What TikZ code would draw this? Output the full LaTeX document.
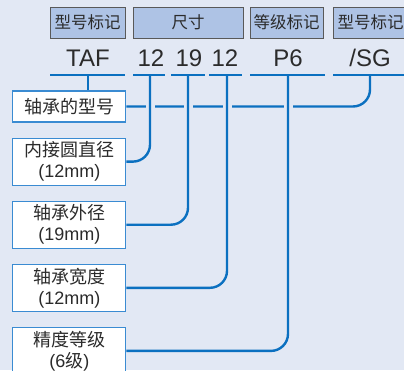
\documentclass[tikz,border=0pt]{standalone}
\usepackage{xcolor}
\usepackage{fontspec}
\setmainfont{Liberation Sans}
\newfontfamily\cjk{Noto Sans CJK SC}
\usepackage{tikz}
\usetikzlibrary{positioning}

\definecolor{bgcol}{HTML}{E2E8F4}
\definecolor{headfill}{HTML}{AEC3E5}
\definecolor{lineblue}{HTML}{0B70C0}
\definecolor{boxblue}{HTML}{3A8BD2}
\definecolor{txtgray}{HTML}{2B2B2B}

\begin{document}
\begin{tikzpicture}[
  x=1pt, y=-1pt,
  node distance=15pt,
  head/.style={
    rectangle, draw=black!65, fill=headfill, line width=0.9pt,
    minimum height=31pt, inner sep=0pt,
    font=\fontsize{16.5}{18}\selectfont\cjk, text=txtgray
  },
  code/.style={anchor=base, font=\fontsize{24}{26}\selectfont, text=txtgray},
  part/.style={
    rectangle, draw=boxblue, fill=white, line width=1.1pt,
    minimum width=113pt, minimum height=47pt, inner sep=0pt,
    align=center, font=\fontsize{18}{21}\selectfont, text=txtgray
  },
  uline/.style={draw=lineblue, line width=2.4pt},
  conn/.style={draw=lineblue, line width=2.4pt, rounded corners=17pt}
]
\useasboundingbox[fill=bgcol] (0,0) rectangle (404,370);

% --- header strip ---
\node[head, minimum width=75pt]  (hmodel) at (87.5,22.5)  {型号标记};
\node[head, minimum width=110pt] (hsize)  at (188,22.5)   {尺寸};
\node[head, minimum width=73pt]  (hgrade) at (286.5,22.5) {等级标记};
\node[head, minimum width=75pt]  (hsuf)   at (370.5,22.5) {型号标记};

% --- designation ---
\node[code] (taf) at (88,66.7)  {TAF};
\node[code] (bore) at (151,66.7) {12};
\node[code] (od)   at (189,66.7) {19};
\node[code] (wid)  at (225,66.7) {12};
\node[code] (pcl)  at (288,66.7) {P6};
\node[code] (sg)   at (370,66.7) {/SG};

% --- underlines ---
\coordinate (utaf)  at (88,75);
\coordinate (ubore) at (150,75);
\coordinate (uod)   at (188,75);
\coordinate (uwid)  at (227,75);
\coordinate (upcl)  at (288,75);
\coordinate (usg)   at (370,75);
\draw[uline] (50,75) -- (125,75);
\draw[uline] (133,75) -- (165,75);
\draw[uline] (171,75) -- (205,75);
\draw[uline] (209,75) -- (242,75);
\draw[uline] (250,75) -- (325,75);
\draw[uline] (333,75) -- (410,75);

% --- explanation boxes ---
\node[part, minimum height=31pt] (model) at (69.4,106.5) {\cjk 轴承的型号};
\node[part, below=of model] (dbore) {{\cjk 内接圆直径}\\(12mm)};
\node[part, below=of dbore] (dod)   {{\cjk 轴承外径}\\(19mm)};
\node[part, below=of dod]   (dwid)  {{\cjk 轴承宽度}\\(12mm)};
\node[part, below=of dwid]  (dpcl)  {{\cjk 精度等级}\\(6{\cjk 级})};

% --- connectors ---
\draw[uline] (utaf) -- (utaf |- model.north);
\draw[conn] (model.east) -| (usg);
\foreach \x in {150,188,227,288}
  \fill[bgcol] (\x-4.5,102) rectangle (\x+4.5,110);
\draw[conn] (dbore.east) -| (ubore);
\draw[conn] (dod.east)   -| (uod);
\draw[conn] (dwid.east)  -| (uwid);
\draw[conn] (dpcl.east)  -| (upcl);

\end{tikzpicture}
\end{document}
